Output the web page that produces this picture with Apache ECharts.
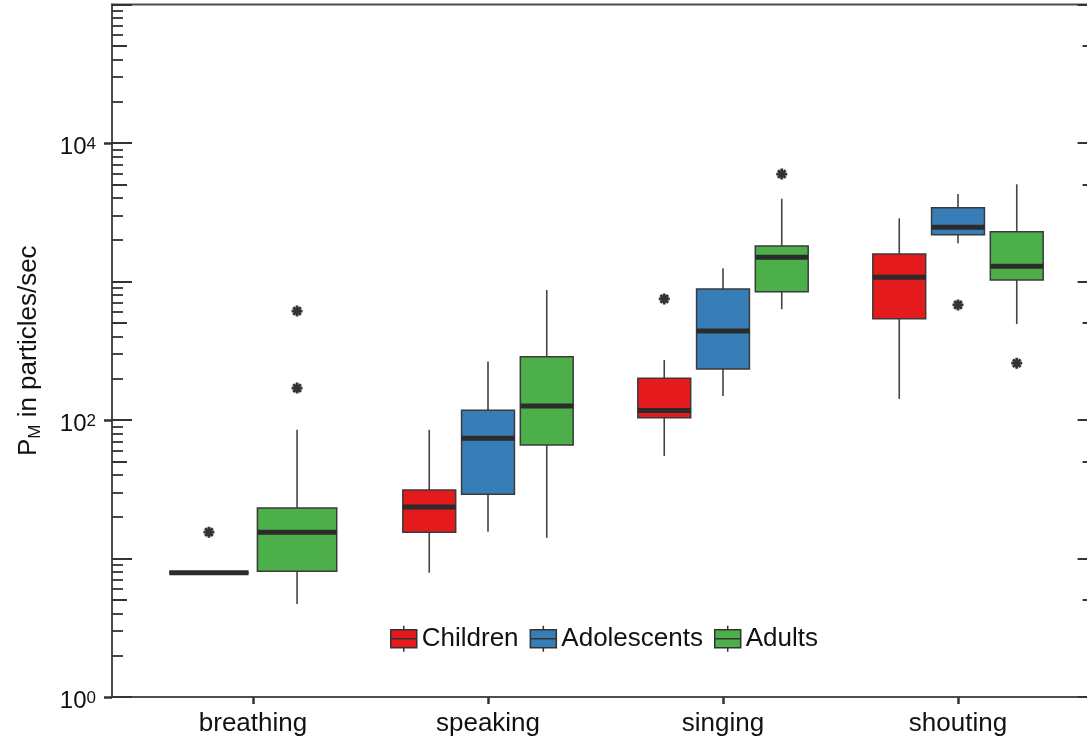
<!DOCTYPE html>
<html lang="en">

<head>
    <meta charset="UTF-8">
    <title>Particle emission</title>
    <script src="https://cdn.jsdelivr.net/npm/echarts@6.0.0/dist/echarts.min.js"></script>
    <style>
        html, body { margin: 0; padding: 0; background: #fff; }
        #main { width: 1087px; height: 740px; }
    </style>
</head>

<body>
    <div id="main"></div>
    <script type="text/javascript">

        var categories = ['breathing', 'speaking', 'singing', 'shouting'];
        var groups = ['Children', 'Adolescents', 'Adults'];
        var colors = ['#E41A1C', '#377EB8', '#4DAF4A'];

        // [min, Q1, median, Q3, max] per activity, null = no data
        var children = [[7.9, 7.9, 7.9, 7.9, 7.9], [7.9, 15.5, 23.5, 31.2, 85], [55, 104, 117, 200, 271], [142, 539, 1072, 1580, 2858]];
        var adolescents = [null, [15.6, 29.1, 73.8, 117.5, 264], [149, 233, 439, 883, 1245], [1888, 2178, 2462, 3411, 4285]];
        var adults = [[4.7, 8.1, 15.5, 23.2, 85], [14.1, 66, 126, 286, 868], [630, 844, 1496, 1803, 3963], [493, 1025, 1288, 2290, 5035]];

        // outliers: [activity index, value]
        var childrenOut = [[0, 15.5], [2, 748]];
        var adolescentsOut = [[3, 677]];
        var adultsOut = [[0, 170], [0, 612], [2, 5970], [3, 257]];

        var labelTicks = [1, 100, 10000];

        var boxStats = [children, adolescents, adults];
        var outStats = [childrenOut, adolescentsOut, adultsOut];
        var font = "'Liberation Sans', Arial, sans-serif";
        var dark = '#333';

        // tick positions of the log axis
        var decades = [], fives = [], minors = [];
        for (var k = 0; k <= 5; k++) {
            decades.push(Math.pow(10, k));
            if (k < 5) {
                fives.push(5 * Math.pow(10, k));
                [2, 3, 4, 6, 7, 8, 9].forEach(function (m) { minors.push(m * Math.pow(10, k)); });
            }
        }

        // dodge like ggplot: groups present share 0.75 of the band, box = 90% of slot
        function slot(gi, ci) {
            var present = [];
            boxStats.forEach(function (s, k) { if (s[ci]) present.push(k); });
            var n = present.length;
            var step = 0.75 / n;
            return { offset: (present.indexOf(gi) - (n - 1) / 2) * step, width: step * 0.9 };
        }

        function boxRenderer(gi) {
            return function (params, api) {
                var ci = api.value(0);
                var s = slot(gi, ci);
                var cx = ci + s.offset;
                var x = api.coord([cx, api.value(3)])[0];
                var left = api.coord([cx - s.width / 2, 1])[0];
                var right = api.coord([cx + s.width / 2, 1])[0];
                var yMin = api.coord([cx, api.value(1)])[1];
                var yQ1 = api.coord([cx, api.value(2)])[1];
                var yMed = api.coord([cx, api.value(3)])[1];
                var yQ3 = api.coord([cx, api.value(4)])[1];
                var yMax = api.coord([cx, api.value(5)])[1];
                var ws = { stroke: '#444', lineWidth: 1.6 };
                return {
                    type: 'group',
                    children: [
                        { type: 'line', shape: { x1: x, y1: yMax, x2: x, y2: yQ3 }, style: ws },
                        { type: 'line', shape: { x1: x, y1: yQ1, x2: x, y2: yMin }, style: ws },
                        {
                            type: 'rect', shape: { x: left, y: yQ3, width: right - left, height: yQ1 - yQ3 },
                            style: { fill: colors[gi], stroke: '#3a3a3a', lineWidth: 1.5 }
                        },
                        { type: 'line', shape: { x1: left, y1: yMed, x2: right, y2: yMed }, style: { stroke: '#2b2b2b', lineWidth: 5 } }
                    ]
                };
            };
        }

        function outlierRenderer(gi) {
            return function (params, api) {
                var ci = api.value(0);
                var s = slot(gi, ci);
                var p = api.coord([ci + s.offset, api.value(1)]);
                return {
                    type: 'path',
                    shape: {
                        pathData: 'M5,0L5,10M0,5L10,5M1.5,1.5L8.5,8.5M1.5,8.5L8.5,1.5',
                        x: p[0] - 5.5, y: p[1] - 5.5, width: 11, height: 11
                    },
                    style: { stroke: dark, lineWidth: 2.8, fill: null }
                };
            };
        }

        var series = [];
        groups.forEach(function (name, gi) {
            var data = [];
            boxStats[gi].forEach(function (d, ci) { if (d) data.push([ci].concat(d)); });
            series.push({
                name: name, type: 'custom', color: colors[gi], itemStyle: { color: colors[gi] },
                renderItem: boxRenderer(gi), encode: { x: 0, y: [1, 2, 3, 4, 5] }, data: data
            });
            series.push({
                name: name, type: 'custom', color: colors[gi], itemStyle: { color: colors[gi] },
                renderItem: outlierRenderer(gi), encode: { x: 0, y: 1 }, data: outStats[gi]
            });
        });

        function logAxis(extra) {
            var ax = {
                type: 'log', logBase: 10, min: 1, max: 100000, position: 'left',
                axisLine: { show: false, onZero: false }, splitLine: { show: false },
                axisLabel: { show: false }, axisTick: { show: false }
            };
            for (var key in extra) ax[key] = extra[key];
            return ax;
        }

        var myChart = echarts.init(document.getElementById('main'));

        var option = {
            animation: false,
            backgroundColor: '#fff',
            textStyle: { fontFamily: font },
            grid: {
                left: 112, top: 4.5, width: 977.6, height: 692.5,
                show: true, borderColor: '#4d4d4d', borderWidth: 2,
                outerBoundsMode: 'none'
            },
            legend: {
                data: groups, left: 385, top: 620, itemWidth: 26, itemHeight: 27, itemGap: 11,
                icon: 'path://M0,4L26,4L26,22L0,22Z M0,13L26,13 M13,0L13,4 M13,22L13,26',
                itemStyle: { borderColor: dark, borderWidth: 1.5 },
                textStyle: { fontSize: 26, color: '#111', fontFamily: font }
            },
            xAxis: {
                type: 'value', min: -0.6, max: 3.56,
                axisLine: { show: true, onZero: false, lineStyle: { color: '#4d4d4d', width: 2 } },
                axisTick: { show: true, length: 7, customValues: [0, 1, 2, 3], lineStyle: { color: dark, width: 2.5 } },
                axisLabel: {
                    customValues: [0, 1, 2, 3], margin: 14, fontSize: 26, color: '#111', fontFamily: font,
                    formatter: function (v) { return categories[Math.round(v)] || ''; }
                },
                splitLine: { show: false }
            },
            yAxis: [
                logAxis({
                    axisLine: { show: true, onZero: false, lineStyle: { color: '#4d4d4d', width: 2 } },
                    axisTick: { show: true, inside: false, length: 8, customValues: labelTicks, lineStyle: { color: dark, width: 2.5 } },
                    axisLabel: {
                        show: true, customValues: labelTicks, margin: 16, padding: [9, 0, 0, 0],
                        formatter: function (v) { return '{b|10}{s|' + Math.round(Math.log10(v)) + '}'; },
                        rich: {
                            b: { fontSize: 24, lineHeight: 24, verticalAlign: 'bottom', color: '#111', fontFamily: font },
                            s: { fontSize: 17, lineHeight: 17, verticalAlign: 'top', padding: [0, 0, 10, 0], color: '#111', fontFamily: font }
                        }
                    },
                    name: '{n|P}{s|M}{n| in particles/sec}', nameLocation: 'middle', nameGap: 68,
                    nameTextStyle: {
                        rich: {
                            n: { fontSize: 26, lineHeight: 30, color: '#111', fontFamily: font },
                            s: { fontSize: 17, lineHeight: 17, verticalAlign: 'bottom', color: '#111', fontFamily: font }
                        }
                    }
                }),
                logAxis({ axisTick: { show: true, inside: true, length: 20, customValues: decades, lineStyle: { color: dark, width: 2 } } }),
                logAxis({ axisTick: { show: true, inside: true, length: 15, customValues: fives, lineStyle: { color: dark, width: 2 } } }),
                logAxis({ axisTick: { show: true, inside: true, length: 11, customValues: minors, lineStyle: { color: dark, width: 1.8 } } }),
                logAxis({ position: 'right', axisTick: { show: true, inside: true, length: 12, customValues: decades, lineStyle: { color: dark, width: 2 } } }),
                logAxis({ position: 'right', axisTick: { show: true, inside: true, length: 7, customValues: fives, lineStyle: { color: dark, width: 2 } } })
            ],
            series: series
        };

        myChart.setOption(option);
    </script>
</body>

</html>
